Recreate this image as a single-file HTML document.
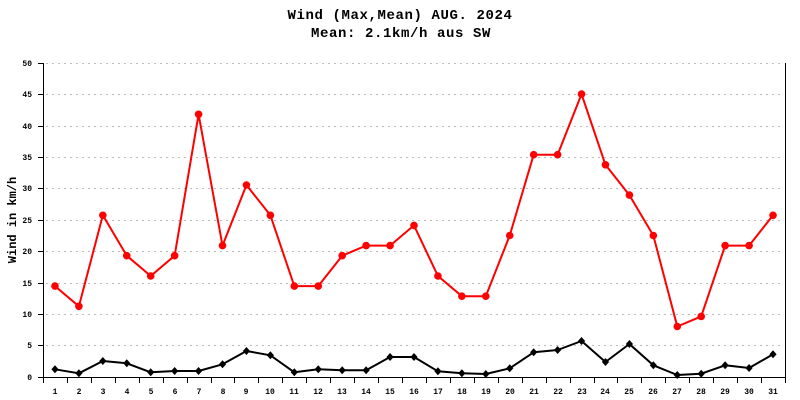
<!DOCTYPE html>
<html>
<head>
<meta charset="utf-8">
<style>
html,body{margin:0;padding:0;background:#fff;}
svg{display:block;}
</style>
</head>
<body>
<svg width="800" height="400" viewBox="0 0 800 400" xmlns="http://www.w3.org/2000/svg">
<defs>
<marker id="dot" markerUnits="userSpaceOnUse" markerWidth="10" markerHeight="10" refX="5" refY="5" viewBox="0 0 10 10">
<circle cx="5" cy="5" r="3.8" fill="#ff0000"/>
</marker>
<marker id="dia" markerUnits="userSpaceOnUse" markerWidth="10" markerHeight="10" refX="5" refY="5" viewBox="0 0 10 10">
<polygon points="5,1 8.6,5 5,9 1.4,5" fill="#000"/>
</marker>
</defs>
<rect width="800" height="400" fill="#fff"/>

<!-- title -->
<g font-family="Liberation Mono, DejaVu Sans Mono, monospace" font-weight="bold" font-size="14" fill="#000" text-anchor="middle" letter-spacing="0.6">
<text x="400" y="19">Wind (Max,Mean) AUG. 2024</text>
<text x="401" y="37">Mean: 2.1km/h aus SW</text>
</g>

<!-- y label -->
<text transform="translate(16,220) rotate(-90)" font-family="Liberation Mono, DejaVu Sans Mono, monospace" font-weight="bold" font-size="12" text-anchor="middle" fill="#000">Wind in km/h</text>

<!-- grid -->
<g stroke="#bdbdbd" stroke-width="1" stroke-dasharray="2,4">
<line x1="46" y1="63.5" x2="784" y2="63.5"/>
<line x1="46" y1="94.5" x2="784" y2="94.5"/>
<line x1="46" y1="126.5" x2="784" y2="126.5"/>
<line x1="46" y1="157.5" x2="784" y2="157.5"/>
<line x1="46" y1="188.5" x2="784" y2="188.5"/>
<line x1="46" y1="220.5" x2="784" y2="220.5"/>
<line x1="46" y1="251.5" x2="784" y2="251.5"/>
<line x1="46" y1="283.5" x2="784" y2="283.5"/>
<line x1="46" y1="314.5" x2="784" y2="314.5"/>
<line x1="46" y1="345.5" x2="784" y2="345.5"/>
</g>

<!-- axes -->
<g stroke="#000" stroke-width="1">
<line x1="43.5" y1="63" x2="43.5" y2="383"/>
<line x1="785.5" y1="63" x2="785.5" y2="383"/>
<line x1="43" y1="377.5" x2="786" y2="377.5"/>
<!-- y ticks -->
<line x1="38" y1="63.5" x2="43" y2="63.5"/>
<line x1="38" y1="94.5" x2="43" y2="94.5"/>
<line x1="38" y1="126.5" x2="43" y2="126.5"/>
<line x1="38" y1="157.5" x2="43" y2="157.5"/>
<line x1="38" y1="188.5" x2="43" y2="188.5"/>
<line x1="38" y1="220.5" x2="43" y2="220.5"/>
<line x1="38" y1="251.5" x2="43" y2="251.5"/>
<line x1="38" y1="283.5" x2="43" y2="283.5"/>
<line x1="38" y1="314.5" x2="43" y2="314.5"/>
<line x1="38" y1="345.5" x2="43" y2="345.5"/>
<line x1="38" y1="377.5" x2="43" y2="377.5"/>
<!-- x ticks -->
<line x1="67.5" y1="377" x2="67.5" y2="383"/>
<line x1="91.5" y1="377" x2="91.5" y2="383"/>
<line x1="115.5" y1="377" x2="115.5" y2="383"/>
<line x1="139.5" y1="377" x2="139.5" y2="383"/>
<line x1="163.5" y1="377" x2="163.5" y2="383"/>
<line x1="187.5" y1="377" x2="187.5" y2="383"/>
<line x1="211.5" y1="377" x2="211.5" y2="383"/>
<line x1="234.5" y1="377" x2="234.5" y2="383"/>
<line x1="258.5" y1="377" x2="258.5" y2="383"/>
<line x1="282.5" y1="377" x2="282.5" y2="383"/>
<line x1="306.5" y1="377" x2="306.5" y2="383"/>
<line x1="330.5" y1="377" x2="330.5" y2="383"/>
<line x1="354.5" y1="377" x2="354.5" y2="383"/>
<line x1="378.5" y1="377" x2="378.5" y2="383"/>
<line x1="402.5" y1="377" x2="402.5" y2="383"/>
<line x1="426.5" y1="377" x2="426.5" y2="383"/>
<line x1="450.5" y1="377" x2="450.5" y2="383"/>
<line x1="474.5" y1="377" x2="474.5" y2="383"/>
<line x1="498.5" y1="377" x2="498.5" y2="383"/>
<line x1="522.5" y1="377" x2="522.5" y2="383"/>
<line x1="546.5" y1="377" x2="546.5" y2="383"/>
<line x1="570.5" y1="377" x2="570.5" y2="383"/>
<line x1="594.5" y1="377" x2="594.5" y2="383"/>
<line x1="617.5" y1="377" x2="617.5" y2="383"/>
<line x1="641.5" y1="377" x2="641.5" y2="383"/>
<line x1="665.5" y1="377" x2="665.5" y2="383"/>
<line x1="689.5" y1="377" x2="689.5" y2="383"/>
<line x1="713.5" y1="377" x2="713.5" y2="383"/>
<line x1="737.5" y1="377" x2="737.5" y2="383"/>
<line x1="761.5" y1="377" x2="761.5" y2="383"/>
</g>

<!-- y tick labels -->
<g font-family="Liberation Mono, DejaVu Sans Mono, monospace" font-size="8" font-weight="bold" fill="#000" text-anchor="end">
<text x="32" y="66">50</text>
<text x="32" y="97">45</text>
<text x="32" y="129">40</text>
<text x="32" y="160">35</text>
<text x="32" y="191">30</text>
<text x="32" y="223">25</text>
<text x="32" y="254">20</text>
<text x="32" y="286">15</text>
<text x="32" y="317">10</text>
<text x="32" y="348">5</text>
<text x="32" y="380">0</text>
</g>

<!-- x tick labels -->
<g font-family="Liberation Mono, DejaVu Sans Mono, monospace" font-size="8" font-weight="bold" fill="#000" text-anchor="middle">
<text x="55" y="394">1</text>
<text x="79" y="394">2</text>
<text x="103" y="394">3</text>
<text x="127" y="394">4</text>
<text x="151" y="394">5</text>
<text x="175" y="394">6</text>
<text x="199" y="394">7</text>
<text x="223" y="394">8</text>
<text x="246" y="394">9</text>
<text x="270" y="394">10</text>
<text x="294" y="394">11</text>
<text x="318" y="394">12</text>
<text x="342" y="394">13</text>
<text x="366" y="394">14</text>
<text x="390" y="394">15</text>
<text x="414" y="394">16</text>
<text x="438" y="394">17</text>
<text x="462" y="394">18</text>
<text x="486" y="394">19</text>
<text x="510" y="394">20</text>
<text x="534" y="394">21</text>
<text x="558" y="394">22</text>
<text x="582" y="394">23</text>
<text x="605" y="394">24</text>
<text x="629" y="394">25</text>
<text x="653" y="394">26</text>
<text x="677" y="394">27</text>
<text x="701" y="394">28</text>
<text x="725" y="394">29</text>
<text x="749" y="394">30</text>
<text x="773" y="394">31</text>
</g>

<!-- max series (red) -->
<polyline fill="none" stroke="#ff0000" stroke-width="2" stroke-linejoin="round"
marker-start="url(#dot)" marker-mid="url(#dot)" marker-end="url(#dot)"
points="54.97,286.1 78.90,306.3 102.84,215.3 126.77,255.7 150.71,276.0 174.64,255.7 198.58,114.3 222.51,245.6 246.45,185.0 270.38,215.3 294.32,286.1 318.25,286.1 342.19,255.7 366.12,245.6 390.06,245.6 413.99,225.4 437.93,276.0 461.86,296.2 485.80,296.2 509.73,235.5 533.67,154.7 557.60,154.7 581.54,94.1 605.47,164.8 629.41,195.1 653.34,235.5 677.28,326.5 701.21,316.4 725.15,245.6 749.08,245.6 773.02,215.3"/>

<!-- mean series (black) -->
<polyline fill="none" stroke="#000" stroke-width="2" stroke-linejoin="round"
marker-start="url(#dia)" marker-mid="url(#dia)" marker-end="url(#dia)"
points="54.97,369.3 78.90,373.3 102.84,361 126.77,363.3 150.71,372.3 174.64,371 198.58,371 222.51,364.3 246.45,351 270.38,355.3 294.32,372.3 318.25,369.3 342.19,370.3 366.12,370.3 390.06,357 413.99,357 437.93,371.3 461.86,373.3 485.80,374 509.73,368.3 533.67,352.3 557.60,350 581.54,341 605.47,362 629.41,344 653.34,365.3 677.28,375 701.21,373.7 725.15,365.3 749.08,368 773.02,354.3"/>
</svg>
</body>
</html>
